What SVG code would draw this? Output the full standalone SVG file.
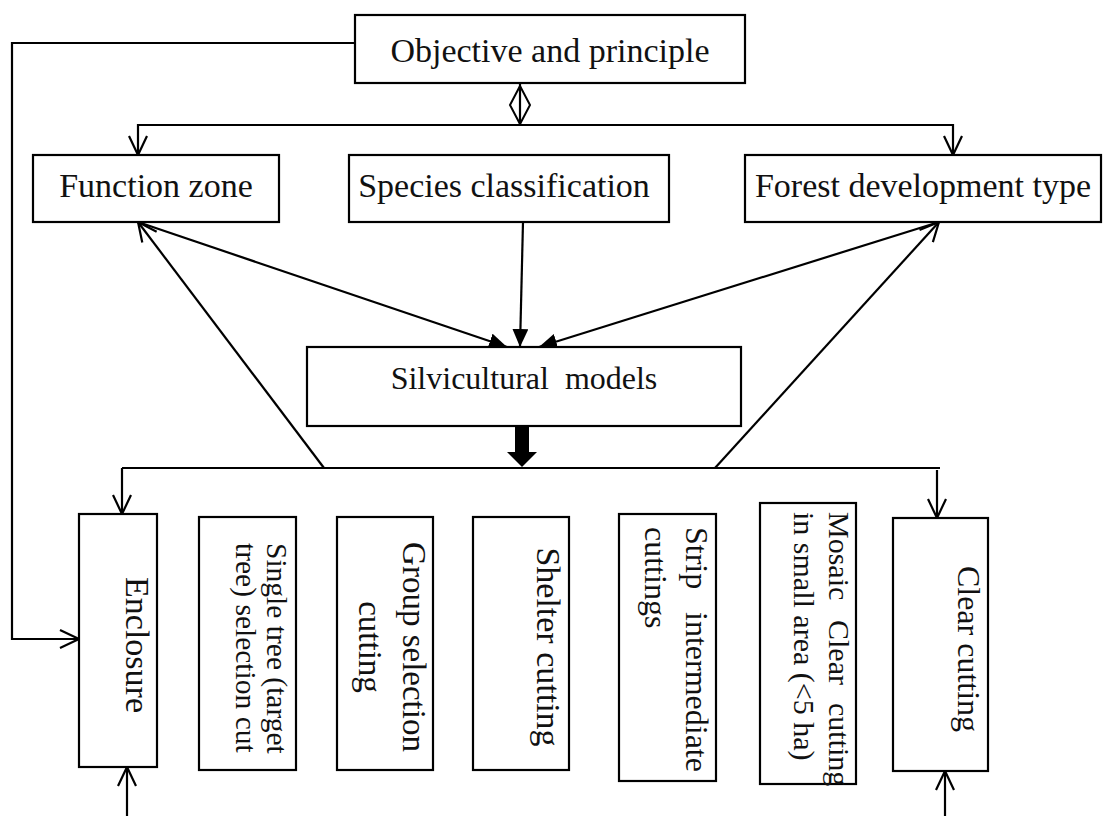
<svg xmlns="http://www.w3.org/2000/svg" width="1108" height="816" viewBox="0 0 1108 816">
<style>
.box{fill:#fff;stroke:#000;stroke-width:2.2}
.ln{fill:none;stroke:#000;stroke-width:2.2}
.t{font-family:"Liberation Serif","Times New Roman",serif;fill:#111}
.c{text-anchor:middle}
</style>
<defs>
<marker id="open" viewBox="0 0 22 22" refX="21" refY="11" markerWidth="22" markerHeight="22" orient="auto" markerUnits="userSpaceOnUse">
<path d="M2,2 L21,11 L2,20" fill="none" stroke="#000" stroke-width="2.2"/>
</marker>
<marker id="solid" viewBox="0 0 18 16" refX="18" refY="8" markerWidth="18" markerHeight="16" orient="auto" markerUnits="userSpaceOnUse">
<path d="M0,0 L18,8 L0,16 Z" fill="#000"/>
</marker>
</defs>
<rect width="1108" height="816" fill="#fff"/>
<g id="connectors">
<path class="ln" d="M355,43 H12 V639 H79" marker-end="url(#open)"/>
<line class="ln" x1="520" y1="83" x2="520" y2="125"/>
<polygon points="520,86 530,105 520,124 510,105" fill="none" stroke="#000" stroke-width="2"/>
<path class="ln" d="M520,125 H138 V155" marker-end="url(#open)"/>
<path class="ln" d="M520,125 H953 V155" marker-end="url(#open)"/>
<line class="ln" x1="138" y1="222" x2="507" y2="347" marker-end="url(#solid)"/>
<line class="ln" x1="523" y1="222" x2="520" y2="347" marker-end="url(#solid)"/>
<line class="ln" x1="939" y1="222" x2="539" y2="347" marker-end="url(#solid)"/>
<rect x="515" y="426" width="14" height="27" fill="#000"/>
<polygon points="507,452 537,452 522,467" fill="#000"/>
<path class="ln" d="M122,468 H940"/>
<line class="ln" x1="122" y1="468" x2="122" y2="514" marker-end="url(#open)"/>
<line class="ln" x1="937" y1="470" x2="937" y2="518" marker-end="url(#open)"/>
<line class="ln" x1="324" y1="468" x2="138" y2="222" marker-end="url(#open)"/>
<line class="ln" x1="715" y1="468" x2="939" y2="222" marker-end="url(#open)"/>
<line class="ln" x1="127" y1="816" x2="127" y2="767" marker-end="url(#open)"/>
<line class="ln" x1="945" y1="816" x2="945" y2="771" marker-end="url(#open)"/>
</g>
<g id="objective">
<rect class="box" x="355" y="15" width="390" height="68"/>
<text class="t c" x="550" y="62" font-size="34">Objective and principle</text>
</g>
<g id="function-zone">
<rect class="box" x="33" y="155" width="246" height="67"/>
<text class="t c" x="156" y="197" font-size="34">Function zone</text>
</g>
<g id="species">
<rect class="box" x="349" y="155" width="320" height="67"/>
<text class="t c" x="504" y="197" font-size="34">Species classification</text>
</g>
<g id="forest-type">
<rect class="box" x="745" y="155" width="356" height="67"/>
<text class="t c" x="923" y="197" font-size="34">Forest development type</text>
</g>
<g id="silvicultural">
<rect class="box" x="307" y="347" width="434" height="79"/>
<text class="t c" x="524" y="389" font-size="32" xml:space="preserve">Silvicultural  models</text>
</g>
<g id="enclosure">
<rect class="box" x="79" y="514" width="78" height="253"/>
<text class="t c" transform="translate(126,645) rotate(90)" font-size="34">Enclosure</text>
</g>
<g id="single-tree">
<rect class="box" x="199" y="517" width="97" height="253"/>
<text class="t" transform="translate(267,543) rotate(90)" font-size="29.5">Single tree (target</text>
<text class="t" transform="translate(236,543) rotate(90)" font-size="29.5">tree) selection cut</text>
</g>
<g id="group-selection">
<rect class="box" x="337" y="517" width="96" height="253"/>
<text class="t c" transform="translate(403,647) rotate(90)" font-size="33">Group selection</text>
<text class="t c" transform="translate(359,647) rotate(90)" font-size="33">cutting</text>
</g>
<g id="shelter">
<rect class="box" x="473" y="517" width="96" height="253"/>
<text class="t c" transform="translate(537,647) rotate(90)" font-size="34">Shelter cutting</text>
</g>
<g id="strip">
<rect class="box" x="619" y="514" width="97" height="267"/>
<text class="t" transform="translate(686,527) rotate(90)" font-size="32"><tspan x="0">Strip</tspan><tspan x="85">intermediate</tspan></text>
<text class="t" transform="translate(645,527) rotate(90)" font-size="32">cuttings</text>
</g>
<g id="mosaic">
<rect class="box" x="760" y="503" width="96" height="281"/>
<text class="t" transform="translate(829,512) rotate(90)" font-size="30"><tspan x="0">Mosaic</tspan><tspan x="108">Clear</tspan><tspan x="191">cutting</tspan></text>
<text class="t" transform="translate(794,512) rotate(90)" font-size="30">in small area (&lt;5 ha)</text>
</g>
<g id="clear-cutting">
<rect class="box" x="893" y="518" width="95" height="253"/>
<text class="t c" transform="translate(958,649) rotate(90)" font-size="32">Clear cutting</text>
</g>
</svg>
